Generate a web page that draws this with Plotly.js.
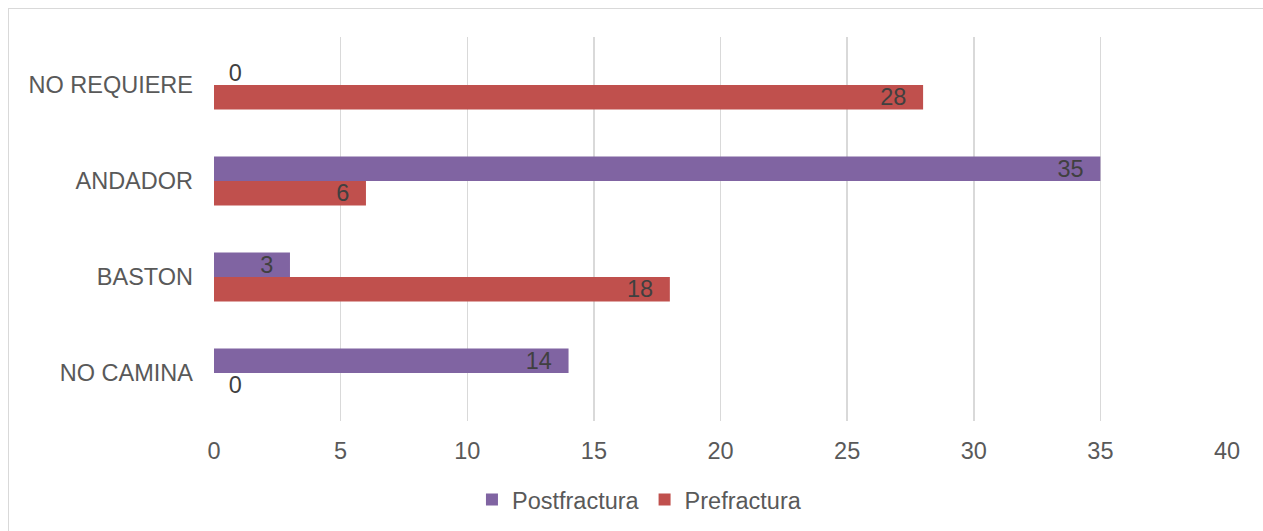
<!DOCTYPE html>
<html>
<head>
<meta charset="utf-8">
<script src="https://cdn.plot.ly/plotly-3.0.1.min.js"></script>
<style>
html,body{margin:0;padding:0;background:#fff;overflow:hidden;}
#frame{position:absolute;left:8px;top:8px;width:1400px;height:700px;border-left:1.5px solid #d9d9d9;border-top:1.5px solid #d9d9d9;}
#chart{position:absolute;left:0;top:0;width:1263px;height:531px;}
</style>
</head>
<body>
<div id="frame"></div>
<div id="chart"></div>
<script>
const categories = ["NO CAMINA", "BASTON", "ANDADOR", "NO REQUIERE"];
const postfractura = [14, 3, 35, 0];
const prefractura = [0, 18, 6, 28];
const xTicks = [0, 5, 10, 15, 20, 25, 30, 35, 40];

function positions(vals){ return vals.map(v => v === 0 ? 'outside' : 'inside'); }
function labels(vals){ return vals.map(v => v === 0 ? '\u2002' + String(v) : String(v) + '\u2002\u200A'); }

const font = "'Liberation Sans', Arial, sans-serif";
const FS = 23.5;

function makeTrace(name, vals, color){
  return {
    type: 'bar', orientation: 'h', name: name,
    y: categories, x: vals,
    text: labels(vals),
    textposition: positions(vals), textangle: 0,
    insidetextanchor: 'end', constraintext: 'none', cliponaxis: false,
    textfont: {family: font, size: FS, color: '#404040'},
    outsidetextfont: {family: font, size: FS, color: '#404040'},
    marker: {color: color, line: {width: 0}},
    hoverinfo: 'x+name'
  };
}

const tracePre = makeTrace('Prefractura', prefractura, '#C0504D');
const tracePost = makeTrace('Postfractura', postfractura, '#8064A2');

const layout = {
  width: 1263, height: 531,
  margin: {l: 214, r: 36, t: 37, b: 110, autoexpand: false},
  paper_bgcolor: 'rgba(0,0,0,0)', plot_bgcolor: 'rgba(0,0,0,0)',
  font: {family: font, size: FS, color: '#595959'},
  barmode: 'group', bargap: 0.49, bargroupgap: 0,
  showlegend: true,
  legend: {orientation: 'h', x: 0.42, xanchor: 'center', y: -0.205, yanchor: 'middle',
           traceorder: 'reversed', font: {family: font, size: FS, color: '#595959'},
           itemwidth: 30},
  xaxis: {range: [0, 40], tickvals: xTicks, ticktext: xTicks.map(String),
          showgrid: true, gridcolor: '#d9d9d9', gridwidth: 1.5,
          zeroline: false, showline: false, ticks: '', fixedrange: true,
          ticklabelstandoff: 13, automargin: false,
          tickfont: {family: font, size: FS, color: '#595959'}},
  yaxis: {type: 'category', categoryorder: 'array', categoryarray: categories,
          showgrid: false, zeroline: false, showline: false, ticks: '',
          ticklabelstandoff: 20, fixedrange: true, automargin: false,
          tickfont: {family: font, size: FS, color: '#595959'}}
};

Plotly.newPlot('chart', [tracePre, tracePost], layout, {displayModeBar: false, staticPlot: true});
</script>
</body>
</html>
